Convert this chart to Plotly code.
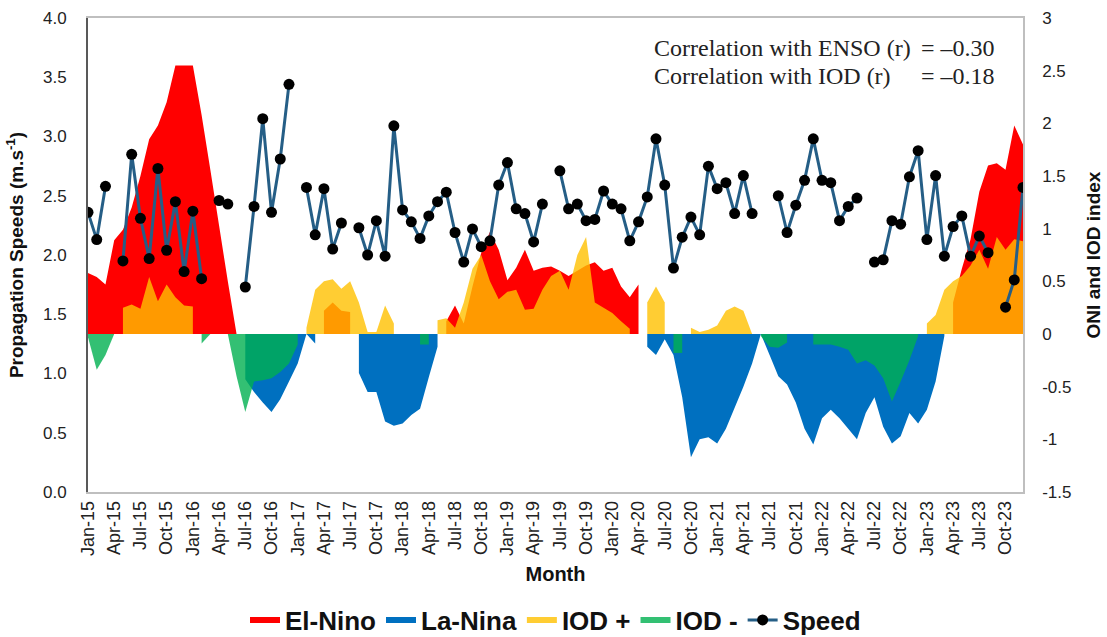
import plotly.graph_objects as go

N = None

# Month categories, Jan-15 .. Dec-23
YEARS = ["15", "16", "17", "18", "19", "20", "21", "22", "23"]
MONTH_NAMES = ["Jan", "Feb", "Mar", "Apr", "May", "Jun",
               "Jul", "Aug", "Sep", "Oct", "Nov", "Dec"]
months = [f"{m}-{y}" for y in YEARS for m in MONTH_NAMES]
tick_months = months[::3]

# Mean propagation speed (m/s); None = no data that month
speed = [
    2.36, 2.13, 2.58, N, 1.95, 2.85, 2.31, 1.97, 2.73, 2.04, 2.45, 1.86,
    2.37, 1.80, N, 2.46, 2.43, N, 1.73, 2.41, 3.15, 2.36, 2.81, 3.44,
    N, 2.57, 2.17, 2.56, 2.05, 2.27, N, 2.23, 2.00, 2.29, 1.99, 3.09,
    2.38, 2.28, 2.14, 2.33, 2.45, 2.53, 2.19, 1.94, 2.22, 2.07, 2.12, 2.59,
    2.78, 2.39, 2.35, 2.11, 2.43, N, 2.71, 2.39, 2.43, 2.29, 2.30, 2.54,
    2.43, 2.39, 2.12, 2.28, 2.49, 2.98, 2.59, 1.89, 2.15, 2.32, 2.17, 2.75,
    2.56, 2.61, 2.35, 2.67, 2.35, N, N, 2.50, 2.19, 2.42, 2.63, 2.98,
    2.63, 2.61, 2.29, 2.41, 2.48, N, 1.94, 1.96, 2.29, 2.26, 2.66, 2.88,
    2.13, 2.67, 1.99, 2.24, 2.33, 1.99, 2.16, 2.02, N, 1.56, 1.79, 2.57,
]

# ONI, warm phase
el_nino = [
    0.58, 0.54, 0.47, 0.89, 0.99, 1.20, 1.50, 1.85, 1.98, 2.20, 2.55, 2.55,
    2.55, 2.08, 1.56, 1.03, 0.50, 0.00, N, N, N, N, N, N,
    N, N, N, 0.22, 0.30, 0.22, 0.21, N, N, N, N, N,
    N, N, N, N, N, 0.12, 0.27, 0.10, 0.45, 0.77, 0.97, 0.80,
    0.51, 0.63, 0.80, 0.60, 0.63, 0.64, 0.60, 0.55, 0.60, 0.65, 0.68, 0.60,
    0.63, 0.45, 0.35, 0.47, N, N, N, N, N, N, N, N,
    N, N, N, N, N, N, N, N, N, N, N, N,
    N, N, N, N, N, N, N, N, N, N, N, N,
    N, N, N, 0.30, 0.62, 0.90, 1.35, 1.60, 1.62, 1.56, 1.98, 1.80,
]

# ONI, cold phase
la_nina = [
    N, N, N, N, N, N, N, N, N, N, N, N,
    N, N, N, N, N, N, -0.43, -0.55, -0.65, -0.74, -0.62, -0.45,
    -0.28, 0.00, -0.09, N, N, N, N, -0.37, -0.55, -0.55, -0.83, -0.87,
    -0.85, -0.77, -0.71, -0.41, -0.12, N, N, N, N, N, N, N,
    N, N, N, N, N, N, N, N, N, N, N, N,
    N, N, N, N, -0.12, -0.20, -0.05, -0.20, -0.60, -1.17, -1.00, -0.98,
    -1.04, -0.90, -0.70, -0.50, -0.28, 0.00, -0.20, -0.40, -0.48, -0.65, -0.90, -1.05,
    -0.80, -0.72, -0.80, -0.90, -1.00, -0.75, -0.60, -0.88, -1.04, -0.97, -0.75, -0.85,
    -0.72, -0.45, -0.02, N, N, N, N, N, N, N, N, N,
]

# Indian Ocean Dipole, positive phase
iod_pos = [
    N, N, N, N, 0.25, 0.28, 0.24, 0.54, 0.31, 0.47, 0.35, 0.27,
    0.26, N, N, N, N, N, N, N, N, N, N, N,
    N, 0.06, 0.42, 0.50, 0.52, 0.43, 0.50, 0.30, 0.02, 0.02, 0.27, 0.10,
    N, N, N, N, 0.13, 0.15, 0.06, 0.30, 0.62, 0.75, 0.50, 0.33,
    0.40, 0.42, 0.23, 0.24, 0.42, 0.55, 0.60, 0.42, 0.75, 0.92, 0.30, 0.25,
    0.20, 0.12, 0.05, N, 0.30, 0.45, 0.30, N, N, 0.06, 0.02, 0.04,
    0.08, 0.22, 0.26, 0.22, 0.00, N, N, N, N, N, N, N,
    N, N, N, N, N, N, N, N, N, N, N, N,
    0.10, 0.18, 0.42, 0.50, 0.55, 0.65, 0.80, 0.62, 0.92, 0.80, 0.90, 0.88,
]

# Indian Ocean Dipole, negative phase
iod_neg = [
    -0.03, -0.34, -0.20, 0.00, N, N, N, N, N, N, N, N,
    N, -0.09, 0.00, N, 0.00, -0.40, -0.74, -0.45, -0.44, -0.42, -0.36, -0.28,
    -0.10, N, N, N, N, N, N, N, N, N, N, N,
    N, N, -0.10, -0.10, N, N, N, N, N, N, N, N,
    N, N, N, N, N, N, N, N, N, N, N, N,
    N, N, N, N, N, N, N, -0.18, -0.18, N, N, N,
    N, N, N, N, N, -0.02, -0.12, -0.13, -0.08, N, N, -0.10,
    -0.10, -0.10, -0.12, -0.15, -0.28, -0.25, -0.30, -0.42, -0.64, -0.45, -0.25, -0.02,
    N, N, N, N, N, N, N, N, N, N, N, N,
]

SANS = "Liberation Sans, Arial, sans-serif"
SERIF = "Liberation Serif, Times New Roman, serif"


def runs(cats, vals):
    """Split a series into contiguous runs of non-missing values."""
    out, cx, cy = [], [], []
    for c, v in zip(cats, vals):
        if v is None:
            if cx:
                out.append((cx, cy))
            cx, cy = [], []
        else:
            cx.append(c)
            cy.append(v)
    if cx:
        out.append((cx, cy))
    return out


fig = go.Figure()

index_series = [
    ("El-Nino", el_nino, "rgba(255,0,0,1)"),
    ("La-Nina", la_nina, "rgba(0,112,192,1)"),
    ("IOD +", iod_pos, "rgba(255,192,0,0.8)"),
    ("IOD -", iod_neg, "rgba(0,176,80,0.8)"),
]
for name, vals, col in index_series:
    for k, (sx, sy) in enumerate(runs(months, vals)):
        fig.add_trace(go.Scatter(
            x=sx, y=sy, name=name, legendgroup=name, showlegend=(k == 0),
            mode="none", fill="tozeroy", fillcolor=col,
            yaxis="y", hoverinfo="skip",
        ))

fig.add_trace(go.Scatter(
    x=months, y=speed, name="Speed", mode="lines+markers",
    line=dict(color="#255E86", width=3),
    marker=dict(color="black", size=11),
    connectgaps=False, yaxis="y2",
))

ix_ticks = [-1.5, -1, -0.5, 0, 0.5, 1, 1.5, 2, 2.5, 3]
ix_text = ["-1.5", "-1", "-0.5", "0", "0.5", "1", "1.5", "2", "2.5", "3"]
sp_ticks = [0, 0.5, 1, 1.5, 2, 2.5, 3, 3.5, 4]

fig.update_layout(
    width=1107, height=637,
    margin=dict(l=88, r=84, t=18, b=145, autoexpand=False),
    paper_bgcolor="white", plot_bgcolor="white",
    font=dict(family=SANS, color="#222222"),
    showlegend=True,
    legend=dict(
        orientation="h", x=0.5, xanchor="center", y=-0.27, yanchor="middle",
        font=dict(family=SANS, size=26, color="#111111", weight="bold"),
        itemwidth=30, tracegroupgap=0,
    ),
    xaxis=dict(
        type="category", categoryorder="array", categoryarray=months,
        range=[0, len(months) - 1],
        tickmode="array", tickvals=tick_months, ticktext=tick_months,
        tickangle=-90, tickfont=dict(size=18, color="#222222"),
        showgrid=False, zeroline=False,
        showline=True, mirror=True, linecolor="#BFBFBF", linewidth=1.5,
        title=dict(text="<b>Month</b>", font=dict(size=20, color="#111111"), standoff=12),
        automargin=False,
    ),
    yaxis=dict(
        side="right", range=[-1.5, 3],
        tickmode="array", tickvals=ix_ticks, ticktext=ix_text,
        tickfont=dict(size=17, color="#222222"),
        showgrid=False, zeroline=False,
        showline=True, linecolor="#BFBFBF", linewidth=1.5,
        ticklabelstandoff=14,
        title=dict(text="<b>ONI and IOD index</b>", font=dict(size=19, color="#111111"), standoff=16),
        automargin=False,
    ),
    yaxis2=dict(
        overlaying="y", side="left", range=[0, 4],
        tickmode="array", tickvals=sp_ticks, tickformat=".1f",
        tickfont=dict(size=17, color="#222222"),
        showgrid=False, zeroline=False,
        showline=True, linecolor="#595959", linewidth=2,
        ticklabelstandoff=16,
        title=dict(text="<b>Propagation Speeds (m.s<sup>-1</sup>)</b>",
                   font=dict(size=19, color="#111111"), standoff=14),
        automargin=False,
    ),
)

ann_font = dict(family=SERIF, size=24, color="#222222")
for label, value, py in [
    ("Correlation with ENSO (r)", "= \u20130.30", 48),
    ("Correlation with IOD (r)", "= \u20130.18", 76),
]:
    yp = (492 - py) / 474
    fig.add_annotation(xref="paper", yref="paper", x=(652 - 88) / 935, y=yp,
                       text=label, showarrow=False, xanchor="left",
                       yanchor="middle", font=ann_font)
    fig.add_annotation(xref="paper", yref="paper", x=(919 - 88) / 935, y=yp,
                       text=value, showarrow=False, xanchor="left",
                       yanchor="middle", font=ann_font)

fig.write_html("out.html")
